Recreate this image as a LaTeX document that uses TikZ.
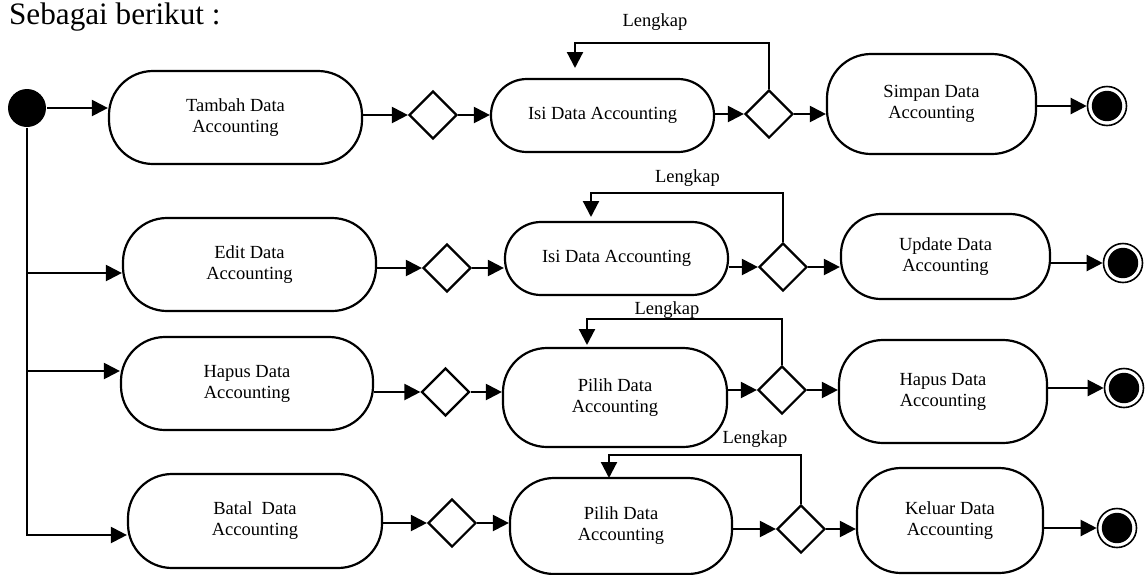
\documentclass[tikz,border=0pt]{standalone}
\usepackage{fontspec}
\setmainfont{Liberation Serif}
\usetikzlibrary{shapes.geometric, arrows.meta}
\begin{document}
\begin{tikzpicture}[x=0.5pt, y=-0.5pt,
  line width=1.1pt,
  act/.style={draw, rectangle, rounded corners=22pt, align=center, inner sep=0pt, font=\fontsize{9.25pt}{10.5pt}\selectfont},
  dec/.style={draw, diamond, minimum width=24pt, minimum height=24pt, inner sep=0pt},
  arr/.style={-{Triangle[length=8pt,width=8pt]}},
  lbl/.style={font=\fontsize{9.25pt}{10.5pt}\selectfont, anchor=base, inner sep=0pt},
  startst/.style={circle, fill=black, minimum size=19pt, inner sep=0pt},
  endst/.style={circle, draw, line width=0.8pt, minimum size=19.5pt, inner sep=0pt,
    path picture={\fill[black] (path picture bounding box.center) circle (7.6pt);}}
]
\useasboundingbox (0,0) rectangle (1147,574);

\node[anchor=base west, inner sep=0pt, font=\fontsize{15.6pt}{18pt}\selectfont] (title) at (8,24) {Sebagai berikut :};

% start
\node[startst] (start) at (27,108) {};

% ---------- Row 1 ----------
\node[act, minimum width=126.5pt, minimum height=46.5pt] (tambah) at (235.5,117.5) {Tambah Data\\Accounting};
\node[dec] (d11) at (433,115) {};
\node[act, rounded corners=18pt, minimum width=111.5pt, minimum height=36.5pt] (isi1) at (602.5,115.5) {Isi Data Accounting};
\node[dec] (d12) at (769,114) {};
\node[act, minimum width=104.5pt, minimum height=50pt] (simpan) at (931.5,104) {Simpan Data\\Accounting};
\node[endst] (end1) at (1107,106) {};
\node[lbl] (lk1) at (655,26) {Lengkap};
\coordinate (k1) at (575,43);
\coordinate (l1) at (575,68);

\draw[arr] (start.east) -- (tambah.west |- start);
\draw[arr] (tambah.east |- d11) -- (d11.west);
\draw[arr] (d11.east) -- (isi1.west |- d11);
\draw[arr] (isi1.east |- d12) -- (d12.west);
\draw[arr] (d12.east) -- (simpan.west |- d12);
\draw[arr] (simpan.east |- end1) -- (end1.west);
\draw[arr] (d12.north) |- (k1) -- (l1);

% ---------- Row 2 ----------
\coordinate (b2) at (26,273);
\node[act, minimum width=126.5pt, minimum height=46.5pt] (edit) at (249.5,264.5) {Edit Data\\Accounting};
\node[dec] (d21) at (447,268) {};
\node[act, rounded corners=18pt, minimum width=111.5pt, minimum height=36.5pt] (isi2) at (616.5,258.5) {Isi Data Accounting};
\node[dec] (d22) at (783,267) {};
\node[act, rounded corners=20pt, minimum width=104.5pt, minimum height=42.5pt] (update) at (945.5,256.5) {Update Data\\Accounting};
\node[endst] (end2) at (1123,263) {};
\node[lbl] (lk2) at (687.5,182) {Lengkap};
\coordinate (k2) at (591,193);
\coordinate (l2) at (591,217);

\draw[arr] (b2) -- (edit.west |- b2);
\draw[arr] (edit.east |- d21) -- (d21.west);
\draw[arr] (d21.east) -- (isi2.west |- d21);
\draw[arr] (isi2.east |- d22) -- (d22.west);
\draw[arr] (d22.east) -- (update.west |- d22);
\draw[arr] (update.east |- end2) -- (end2.west);
\draw[arr] (d22.north) |- (k2) -- (l2);

% ---------- Row 3 ----------
\coordinate (b3) at (26,371);
\node[act, minimum width=126pt, minimum height=46.5pt] (hapus) at (247,383.5) {Hapus Data\\Accounting};
\node[dec] (d31) at (445.5,392) {};
\node[act, minimum width=112pt, minimum height=49.5pt] (pilih1) at (615,397.5) {Pilih Data\\Accounting};
\node[dec] (d32) at (782,390) {};
\node[act, minimum width=104pt, minimum height=51.5pt] (hapus2) at (943,391.5) {Hapus Data\\Accounting};
\node[endst] (end3) at (1124,388) {};
\node[lbl] (lk3) at (667,314) {Lengkap};
\coordinate (k3) at (587,319);
\coordinate (l3) at (587,345);

\draw[arr] (b3) -- (hapus.west |- b3);
\draw[arr] (hapus.east |- d31) -- (d31.west);
\draw[arr] (d31.east) -- (pilih1.west |- d31);
\draw[arr] (pilih1.east |- d32) -- (d32.west);
\draw[arr] (d32.east) -- (hapus2.west |- d32);
\draw[arr] (hapus2.east |- end3) -- (end3.west);
\draw[arr] (d32.north) |- (k3) -- (l3);

% ---------- Row 4 ----------
\coordinate (b4) at (26,535);
\node[act, minimum width=127pt, minimum height=47pt] (batal) at (255,521) {Batal~ Data\\Accounting};
\node[dec] (d41) at (452,523) {};
\node[act, minimum width=111pt, minimum height=48pt] (pilih2) at (621,526) {Pilih Data\\Accounting};
\node[dec] (d42) at (801,529) {};
\node[act, minimum width=93pt, minimum height=52.5pt] (keluar) at (950,520.5) {Keluar Data\\Accounting};
\node[endst] (end4) at (1117,528) {};
\node[lbl] (lk4) at (755,443) {Lengkap};
\coordinate (k4) at (609,455);
\coordinate (l4) at (609,478);

\draw[arr] (b4) -- (batal.west |- b4);
\draw[arr] (batal.east |- d41) -- (d41.west);
\draw[arr] (d41.east) -- (pilih2.west |- d41);
\draw[arr] (pilih2.east |- d42) -- (d42.west);
\draw[arr] (d42.east) -- (keluar.west |- d42);
\draw[arr] (keluar.east |- end4) -- (end4.west);
\draw[arr] (d42.north) |- (k4) -- (l4);

% vertical trunk from start
\draw (start.south) -- (start.south |- b4);
\end{tikzpicture}
\end{document}
